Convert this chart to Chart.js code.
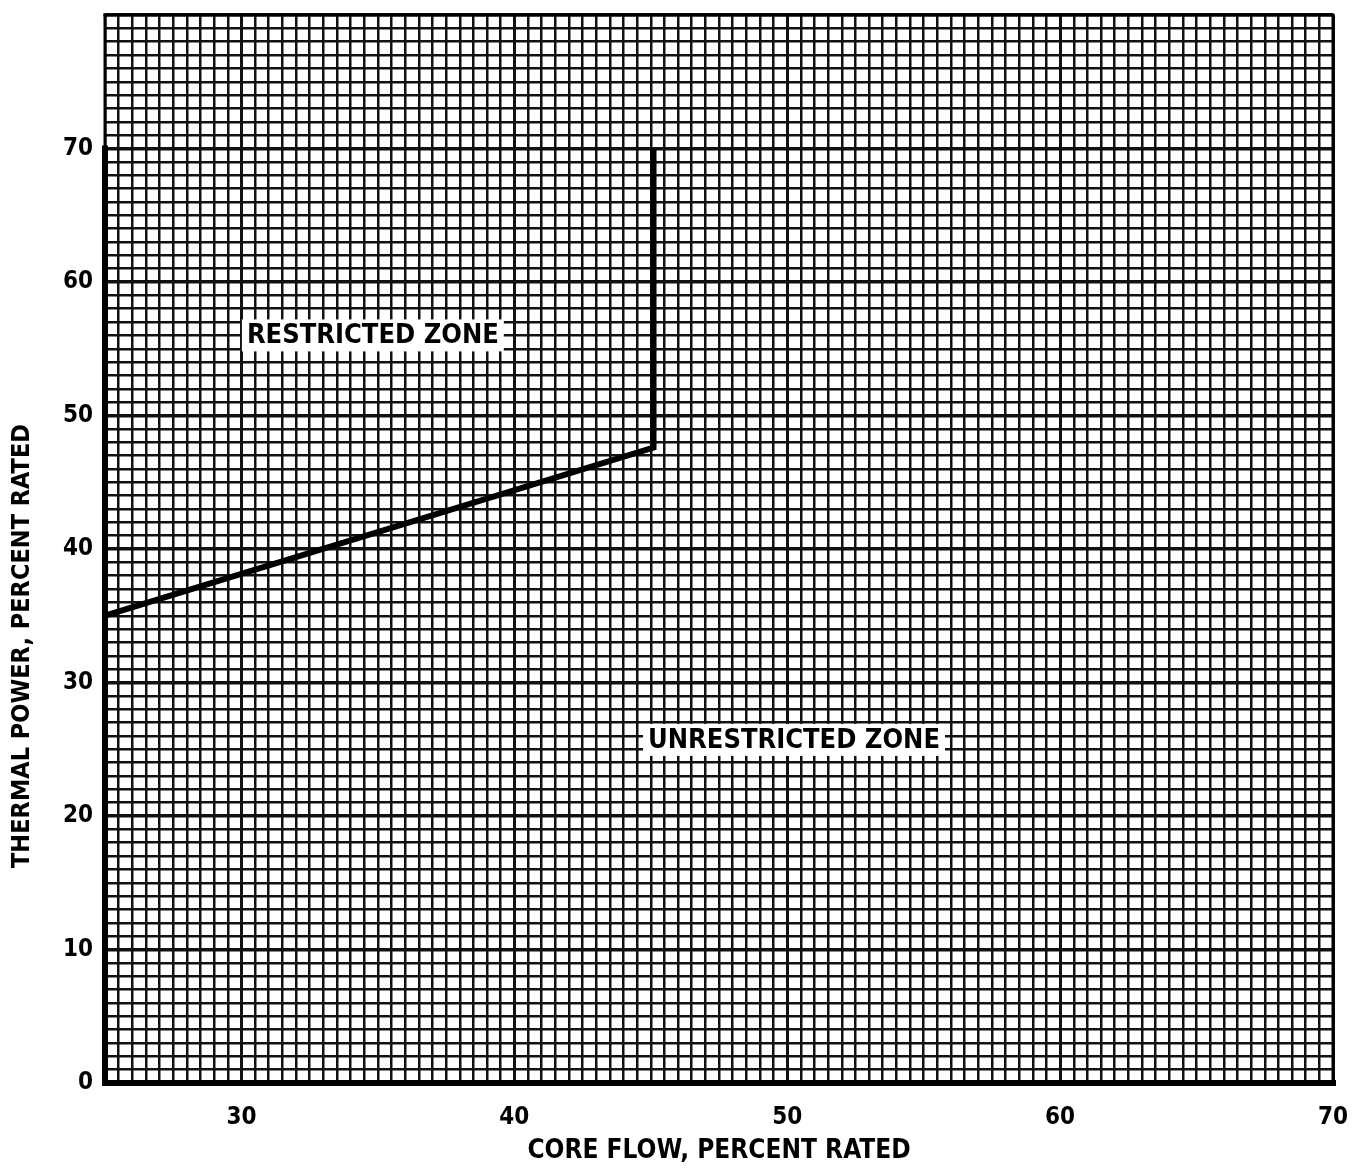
<!DOCTYPE html>
<html>
<head>
<meta charset="utf-8">
<script src="https://cdn.jsdelivr.net/npm/chart.js@4.4.1/dist/chart.umd.min.js"></script>
<style>
  html, body { margin: 0; padding: 0; background: #fff; }
  #wrap { width: 1359px; height: 1173px; }
</style>
</head>
<body>
<div id="wrap"><canvas id="flowChart"></canvas></div>
<script>
// boundary between restricted and unrestricted zones
const boundaryFlow = [25, 45.1, 45.1];
const boundaryPower = [35, 47.6, 70];

const xLabels = [30, 40, 50, 60, 70];
const yLabels = [0, 10, 20, 30, 40, 50, 60, 70];

const zoneText = ['RESTRICTED ZONE', 'UNRESTRICTED ZONE'];
const zoneFlow = [30.2, 44.9];
const zonePower = [56, 25.7];

const yTitle = 'THERMAL POWER, PERCENT RATED';

const FONT = '"DejaVu Sans Condensed", "Liberation Sans Narrow", sans-serif';

const isMajor = (v, step) => Math.abs(v / step - Math.round(v / step)) < 1e-6;

// frame, zone labels, y title
const framePlugin = {
    id: 'frame',
    afterDatasetsDraw(chart) {
        const c = chart.ctx;
        const a = chart.chartArea;
        const x = chart.scales.x, y = chart.scales.y;
        c.save();
        c.strokeStyle = '#000';
        c.lineCap = 'square';
        // top and right
        c.lineWidth = 3;
        c.beginPath();
        c.moveTo(a.left, a.top);
        c.lineTo(a.right, a.top);
        c.lineTo(a.right, a.bottom);
        c.stroke();
        // bottom axis
        c.lineWidth = 6;
        c.beginPath();
        c.moveTo(a.left, a.bottom);
        c.lineTo(a.right, a.bottom);
        c.stroke();
        // left axis, heavy up to 70
        c.beginPath();
        c.moveTo(a.left, a.bottom);
        c.lineTo(a.left, y.getPixelForValue(70));
        c.stroke();
        c.lineWidth = 3;
        c.beginPath();
        c.moveTo(a.left, y.getPixelForValue(70));
        c.lineTo(a.left, a.top);
        c.stroke();

        c.font = 'bold 27px ' + FONT;
        c.textBaseline = 'middle';
        c.textAlign = 'left';
        zoneText.forEach((t, i) => {
            const px = x.getPixelForValue(zoneFlow[i]);
            const py = y.getPixelForValue(zonePower[i]);
            const w = c.measureText(t).width;
            c.fillStyle = '#fff';
            c.fillRect(px - 5, py - 16, w + 10, 32);
            c.fillStyle = '#000';
            c.fillText(t, px, py + 1);
        });

        // y axis title, sits lower than centre in the original
        c.font = 'bold 25px ' + FONT;
        c.textAlign = 'center';
        c.translate(22, 646);
        c.rotate(-Math.PI / 2);
        c.fillText(yTitle, 0, 0);
        c.restore();
    }
};

new Chart(document.getElementById('flowChart'), {
    type: 'scatter',
    data: {
        datasets: [{
            data: boundaryFlow.map((f, i) => ({ x: f, y: boundaryPower[i] })),
            showLine: true,
            borderColor: '#000',
            borderWidth: 6,
            pointRadius: 0,
            tension: 0,
            borderJoinStyle: 'miter'
        }]
    },
    options: {
        responsive: true,
        maintainAspectRatio: false,
        animation: false,
        layout: { padding: { left: 0, right: 26, top: 15, bottom: 0 } },
        plugins: {
            legend: { display: false },
            tooltip: { enabled: false }
        },
        scales: {
            x: {
                type: 'linear',
                min: 25,
                max: 70,
                afterFit: s => { s.height = 90; s.paddingLeft = 0; s.paddingRight = 0; },
                border: { display: false },
                grid: {
                    color: '#111',
                    lineWidth: ctx => isMajor(ctx.tick.value, 10) ? 3 : 2.5,
                    drawTicks: false
                },
                ticks: {
                    stepSize: 0.5,
                    maxTicksLimit: 200,
                    autoSkip: false,
                    maxRotation: 0,
                    padding: 20,
                    color: '#000',
                    font: { family: FONT, size: 24, weight: 'bold' },
                    callback: v => xLabels.includes(v) ? String(v) : ''
                },
                title: {
                    display: true,
                    text: 'CORE FLOW, PERCENT RATED',
                    color: '#000',
                    font: { family: FONT, size: 26, weight: 'bold' },
                    padding: { top: 0, bottom: 6 }
                }
            },
            y: {
                type: 'linear',
                min: 0,
                max: 80,
                afterFit: s => { s.width = 105; s.paddingTop = 0; s.paddingBottom = 0; },
                border: { display: false },
                grid: {
                    color: '#111',
                    lineWidth: ctx => isMajor(ctx.tick.value, 10) ? 3.5 : 2.5,
                    drawTicks: false
                },
                ticks: {
                    stepSize: 1,
                    maxTicksLimit: 200,
                    autoSkip: false,
                    padding: 12,
                    color: '#000',
                    font: { family: FONT, size: 24, weight: 'bold' },
                    callback: v => yLabels.includes(v) ? String(v) : ''
                }
            }
        }
    },
    plugins: [framePlugin]
});
</script>
</body>
</html>
